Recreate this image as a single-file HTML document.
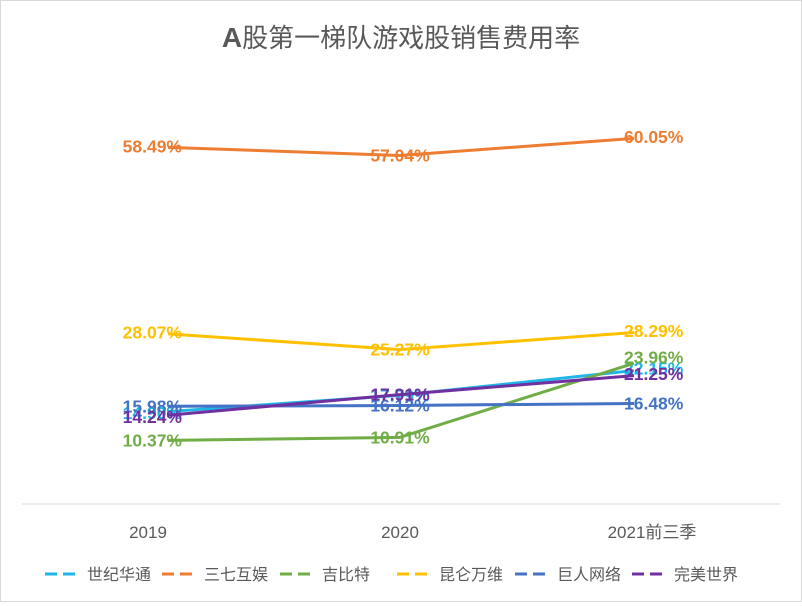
<!DOCTYPE html>
<html><head><meta charset="utf-8"><style>
body{margin:0;background:#fff;}
#wrap{width:800px;height:600px;border:1px solid #d9d9d9;position:relative;font-family:"Liberation Sans","Noto Sans CJK SC",sans-serif;}
</style></head><body>
<div id="wrap">
<svg id="chart" width="800" height="600"></svg>
</div>
<script>
const categories=["2019","2020","2021前三季"];
const seriesNames=["世纪华通","三七互娱","吉比特","昆仑万维","巨人网络","完美世界"];
const seriesColors=["#1fb5e8","#ed7d31","#70ad47","#ffc000","#4472c4","#7030a0"];
const sjht=[14.90,17.79,22.15];
const sqhy=[58.49,57.04,60.05];
const jbt=[10.37,10.91,23.96];
const klwwv=[28.07,25.27,28.29];
const jrwl=[15.98,16.12,16.48];
const wmsj=[14.24,17.91,21.25];
const allSeries=[sjht,sqhy,jbt,klwwv,jrwl,wmsj];
const NS="http://www.w3.org/2000/svg";
const svg=document.getElementById('chart');
function xs(i){return 147+i*252;}
function ys(v){return 503-v*6.11;}
function mk(tag,attrs,parent){const e=document.createElementNS(NS,tag);for(const k in attrs)e.setAttribute(k,attrs[k]);(parent||svg).appendChild(e);return e;}
const t=mk('text',{x:400,y:46,'text-anchor':'middle','font-size':26,fill:'#595959'});


t.innerHTML='<tspan font-weight="bold" font-size="28">A</tspan>股第一梯队游戏股销售费用率';
const ax=mk('line',{x1:21,x2:779,y1:503,y2:503,stroke:'#d9d9d9','stroke-width':1});


categories.forEach((c,i)=>{const e=mk('text',{x:xs(i),y:537,'text-anchor':'middle','font-size':17,fill:'#595959'});


e.textContent=c;});
allSeries.forEach((s,k)=>{
 const col=seriesColors[k];
 const x0=xs(0)+20,x2=xs(2)-18;
 const y0=ys(s[0])+(ys(s[1])-ys(s[0]))*20/252;
 const y2=ys(s[2])+(ys(s[1])-ys(s[2]))*18/252;
 const p=mk('polyline',{points:`${x0},${y0} ${xs(1)},${ys(s[1])} ${x2},${y2}`,fill:'none',stroke:col,'stroke-width':3,'stroke-linejoin':'round'});
 
 
 s.forEach((v,i)=>{
  const anchor=i===0?'end':(i===1?'middle':'start');
  const lx=i===0?xs(i)+34:(i===1?xs(i):xs(i)-28);
  const l=mk('text',{x:lx,y:ys(v)+6,'text-anchor':anchor,'font-size':17.5,'font-weight':'bold',fill:col});
  
  
  l.textContent=v.toFixed(2)+'%';
 });
});
const legX=[44,161,279,396,514,631];
seriesNames.forEach((n,k)=>{
 const g=mk('g',{});
 
 
 mk('line',{x1:legX[k],x2:legX[k]+36,y1:573,y2:573,stroke:seriesColors[k],'stroke-width':3,'stroke-dasharray':'12,6'},g);
 const tx=mk('text',{x:legX[k]+42,y:579,'font-size':16,fill:'#595959'},g);
 tx.textContent=n;
});
</script>
</body></html>
